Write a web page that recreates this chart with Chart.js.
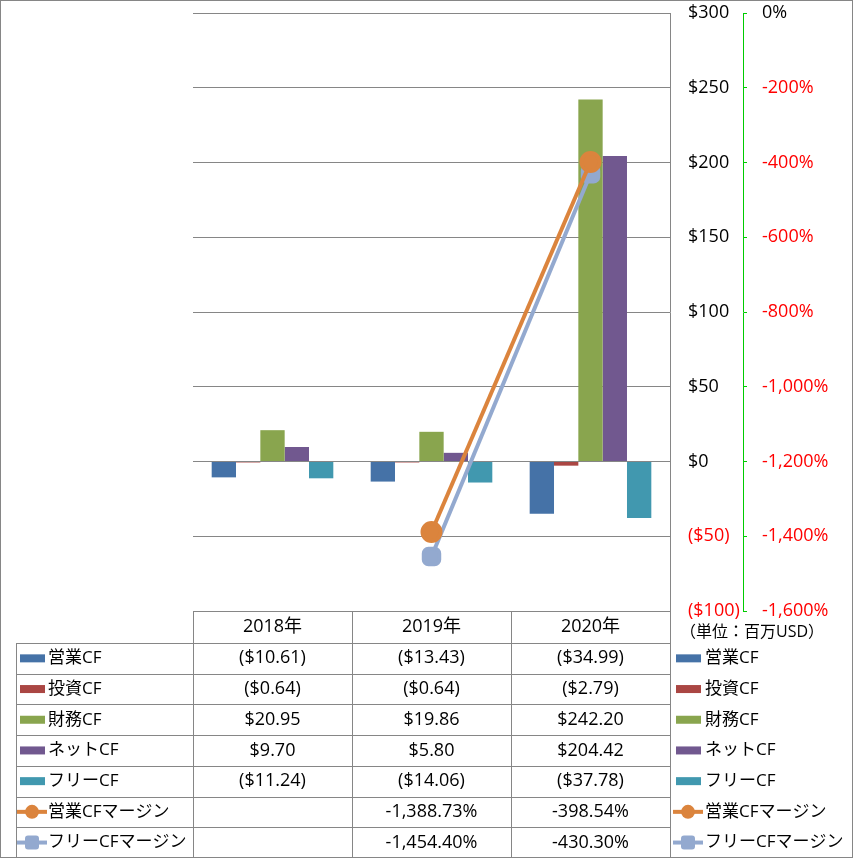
<!DOCTYPE html>
<html><head><meta charset="utf-8">
<script src="https://cdn.jsdelivr.net/npm/chart.js@4"></script>
<style>html,body{margin:0;padding:0;background:#fff}#wrap{width:853px;height:858px;position:relative}</style>
</head><body><div id="wrap"><canvas id="c" width="853" height="858"></canvas></div>
<script>
const categories = ['2018年', '2019年', '2020年'];
const eigyoCF = [-10.61, -13.43, -34.99];
const toshiCF = [-0.64, -0.64, -2.79];
const zaimuCF = [20.95, 19.86, 242.20];
const netCF = [9.70, 5.80, 204.42];
const freeCF = [-11.24, -14.06, -37.78];
const eigyoMargin = [null, -1388.73, -398.54];
const freeMargin = [null, -1454.40, -430.30];
const usdTicks = [300, 250, 200, 150, 100, 50, 0, -50, -100];
const pctTicks = [0, -200, -400, -600, -800, -1000, -1200, -1400, -1600];
const unitLabel = '（単位：百万USD）';

const FONT = '"Open Sans", "Noto Sans CJK JP", sans-serif';
const FS = 18;
const C = {blue:'#4572A7', red:'#AA4643', green:'#89A54E', purple:'#71588F', teal:'#4198AF', orange:'#DB843D', lblue:'#93A9CF'};

const barSeries = [
  {label:'営業CF', data:eigyoCF, color:C.blue},
  {label:'投資CF', data:toshiCF, color:C.red},
  {label:'財務CF', data:zaimuCF, color:C.green},
  {label:'ネットCF', data:netCF, color:C.purple},
  {label:'フリーCF', data:freeCF, color:C.teal}
];
const lineSeries = [
  {label:'営業CFマージン', data:eigyoMargin, color:C.orange, style:'circle'},
  {label:'フリーCFマージン', data:freeMargin, color:C.lblue, style:'rectRounded'}
];

function fmtUSD(v){ const s = '$' + Math.abs(v).toFixed(2); return v < 0 ? '(' + s + ')' : s; }
function fmtPct(v){ if (v === null) return ''; return v.toLocaleString('en-US',{minimumFractionDigits:2, maximumFractionDigits:2}) + '%'; }

function drawKey(ctx, s, x, cy, isLine){
  if (!isLine){
    ctx.fillStyle = s.color;
    ctx.fillRect(x, cy - 4, 25, 8);
  } else {
    ctx.strokeStyle = s.color; ctx.lineWidth = 4;
    ctx.beginPath(); ctx.moveTo(x - 3, cy); ctx.lineTo(x + 27, cy); ctx.stroke();
    ctx.fillStyle = s.color;
    if (s.style === 'circle'){
      ctx.beginPath(); ctx.arc(x + 12, cy, 7, 0, Math.PI*2); ctx.fill();
    } else {
      ctx.beginPath(); ctx.roundRect(x + 5, cy - 7, 14, 14, 3); ctx.fill();
    }
  }
}

const tablePlugin = {
  id:'tablePlugin',
  afterDraw(chart){
    const ctx = chart.ctx, xs = chart.scales.x, ca = chart.chartArea;
    const left = Math.round(ca.left), right = Math.round(ca.right), top = Math.round(ca.bottom);
    const catW = (right - left) / categories.length;
    const headH = 32, rowH = 30.7, bottom = 857;
    const tableLeft = 16;
    ctx.save();
    ctx.strokeStyle = '#868686'; ctx.lineWidth = 1;
    ctx.beginPath(); ctx.moveTo(left, top + 0.5); ctx.lineTo(right, top + 0.5); ctx.stroke();
    for (let i = 0; i <= categories.length; i++){
      const x = Math.round(left + i*catW) + 0.5;
      ctx.beginPath(); ctx.moveTo(x, top); ctx.lineTo(x, bottom); ctx.stroke();
    }
    ctx.beginPath(); ctx.moveTo(tableLeft + 0.5, top + headH); ctx.lineTo(tableLeft + 0.5, bottom); ctx.stroke();
    const rows = barSeries.length + lineSeries.length;
    for (let r = 0; r < rows; r++){
      const y = Math.round(top + headH + r*rowH) + 0.5;
      ctx.beginPath(); ctx.moveTo(tableLeft, y); ctx.lineTo(right, y); ctx.stroke();
    }
    ctx.strokeRect(0.5, 0.5, 852, 857);

    ctx.fillStyle = '#000';
    ctx.font = FS + 'px ' + FONT;
    ctx.textBaseline = 'middle';
    ctx.textAlign = 'center';
    categories.forEach((c, i) => {
      ctx.fillText(c, xs.getPixelForValue(i), top + headH/2);
    });
    ctx.textAlign = 'left';
    ctx.font = (FS - 2) + 'px ' + FONT;
    ctx.fillText(unitLabel, 680, top + 21);
    const all = barSeries.map(s => ({s, line:false})).concat(lineSeries.map(s => ({s, line:true})));
    all.forEach((it, r) => {
      const cy = top + headH + r*rowH + rowH/2;
      drawKey(ctx, it.s, 20, cy, it.line);
      drawKey(ctx, it.s, 676, cy, it.line);
      ctx.fillStyle = '#000';
      ctx.textAlign = 'left';
      ctx.font = (FS - 1) + 'px ' + FONT;
      ctx.fillText(it.s.label, 48, cy);
      ctx.fillText(it.s.label, 705, cy);
      ctx.font = FS + 'px ' + FONT;
      ctx.textAlign = 'center';
      it.s.data.forEach((v, i) => {
        const t = it.line ? fmtPct(v) : fmtUSD(v);
        ctx.fillText(t, xs.getPixelForValue(i), cy);
      });
    });
    ctx.restore();
  }
};

const datasets = [];
lineSeries.forEach(s => datasets.push({
  type:'line', label:s.label, data:s.data, yAxisID:'y1', order:0,
  borderColor:s.color, backgroundColor:s.color, borderWidth:4,
  pointStyle:s.style, pointRadius:9, pointBackgroundColor:s.color, pointBorderColor:s.color,
  spanGaps:false, tension:0
}));
barSeries.forEach(s => datasets.push({
  type:'bar', label:s.label, data:s.data, yAxisID:'y', order:1,
  backgroundColor:s.color, borderWidth:0,
  categoryPercentage:0.765, barPercentage:1.0
}));

function noPad(sc){ sc.paddingTop = 0; sc.paddingBottom = 0; }

new Chart(document.getElementById('c'), {
  data:{labels:categories, datasets},
  options:{
    responsive:false, animation:false, devicePixelRatio:1,
    layout:{padding:{left:193, top:13, right:0, bottom:247}},
    plugins:{legend:{display:false}, tooltip:{enabled:false}},
    scales:{
      x:{display:false, offset:true},
      y:{
        position:'right', min:-100, max:300,
        afterBuildTicks(sc){ sc.ticks = usdTicks.map(v => ({value:v})); },
        afterFit(sc){ sc.width = 73; noPad(sc); },
        grid:{color:'#868686', drawTicks:false, lineWidth:1},
        border:{display:true, color:'#868686', width:1},
        ticks:{
          padding:18, font:{family:FONT, size:FS},
          color:(c) => c.tick.value < 0 ? '#FF0000' : '#000000',
          callback:(v) => v < 0 ? '($' + (-v) + ')' : '$' + v
        }
      },
      y1:{
        position:'right', min:-1600, max:0,
        afterBuildTicks(sc){ sc.ticks = pctTicks.map(v => ({value:v})); },
        afterFit(sc){ sc.width = 110; noPad(sc); },
        grid:{drawOnChartArea:false, color:'#00CC00', tickLength:4, drawTicks:true},
        border:{display:true, color:'#00CC00', width:1, dash:[4,3]},
        ticks:{
          padding:15, font:{family:FONT, size:FS},
          color:(c) => c.tick.value < 0 ? '#FF0000' : '#000000',
          callback:(v) => v.toLocaleString('en-US') + '%'
        }
      }
    }
  },
  plugins:[tablePlugin]
});
</script></body></html>
